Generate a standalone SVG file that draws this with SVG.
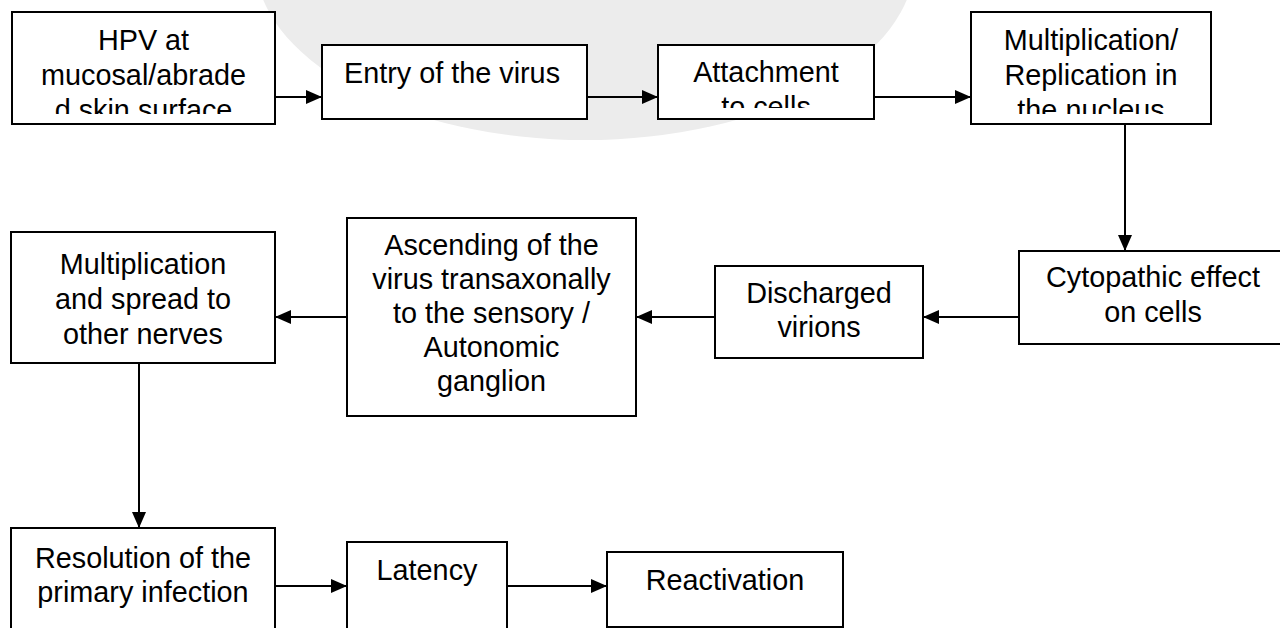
<svg xmlns="http://www.w3.org/2000/svg" width="1280" height="628" viewBox="0 0 1280 628">
<style>
.box{fill:#ffffff;stroke:#000000;stroke-width:2}
.lbl{font-family:"Liberation Sans",Arial,sans-serif;font-size:28.8px;fill:#000000;text-anchor:middle}
.conn{stroke:#000000;stroke-width:2;fill:none;marker-end:url(#arr)}
.wm{fill:#ececec}
</style>
<defs>
<marker id="arr" markerUnits="userSpaceOnUse" markerWidth="16" markerHeight="14" refX="16" refY="7" orient="auto">
<path d="M0,0 L16,7 L0,14 z" fill="#000000"/>
</marker>
<clipPath id="c1"><rect x="12" y="12" width="263" height="102"/></clipPath>
<clipPath id="c3"><rect x="658" y="45" width="216" height="63"/></clipPath>
<clipPath id="c4"><rect x="971" y="12" width="240" height="102"/></clipPath>
</defs>
<rect width="1280" height="628" fill="#ffffff"/>
<g id="watermark">
<ellipse class="wm" cx="585" cy="-40" rx="330" ry="180"/>
</g>
<g id="connectors">
<line class="conn" x1="275" y1="97" x2="322" y2="97"/>
<line class="conn" x1="587" y1="97" x2="658" y2="97"/>
<line class="conn" x1="874" y1="97" x2="971" y2="97"/>
<line class="conn" x1="1125" y1="124" x2="1125" y2="251"/>
<line class="conn" x1="1019" y1="317" x2="923" y2="317"/>
<line class="conn" x1="715" y1="317" x2="636" y2="317"/>
<line class="conn" x1="347" y1="317" x2="275" y2="317"/>
<line class="conn" x1="139" y1="363" x2="139" y2="528"/>
<line class="conn" x1="275" y1="586" x2="347" y2="586"/>
<line class="conn" x1="507" y1="586" x2="607" y2="586"/>
</g>
<g id="n1">
<rect class="box" x="12" y="12" width="263" height="112"/>
<text class="lbl" clip-path="url(#c1)"><tspan x="143.5" y="50">HPV at</tspan><tspan x="143.5" y="85">mucosal/abrade</tspan><tspan x="143.5" y="120">d skin surface</tspan></text>
</g>
<g id="n2">
<rect class="box" x="322" y="45" width="265" height="74"/>
<text class="lbl" x="452" y="83">Entry of the virus</text>
</g>
<g id="n3">
<rect class="box" x="658" y="45" width="216" height="74"/>
<text class="lbl" clip-path="url(#c3)"><tspan x="766" y="82">Attachment</tspan><tspan x="766" y="117">to cells</tspan></text>
</g>
<g id="n4">
<rect class="box" x="971" y="12" width="240" height="112"/>
<text class="lbl" clip-path="url(#c4)"><tspan x="1091" y="50">Multiplication/</tspan><tspan x="1091" y="85">Replication in</tspan><tspan x="1091" y="120">the nucleus</tspan></text>
</g>
<g id="n5">
<rect class="box" x="1019" y="251" width="270" height="93"/>
<text class="lbl"><tspan x="1153" y="287">Cytopathic effect</tspan><tspan x="1153" y="322">on cells</tspan></text>
</g>
<g id="n6">
<rect class="box" x="715" y="266" width="208" height="92"/>
<text class="lbl"><tspan x="819" y="303">Discharged</tspan><tspan x="819" y="337">virions</tspan></text>
</g>
<g id="n7">
<rect class="box" x="347" y="218" width="289" height="198"/>
<text class="lbl"><tspan x="491.5" y="255">Ascending of the</tspan><tspan x="491.5" y="289">virus transaxonally</tspan><tspan x="491.5" y="323">to the sensory /</tspan><tspan x="491.5" y="357">Autonomic</tspan><tspan x="491.5" y="391">ganglion</tspan></text>
</g>
<g id="n8">
<rect class="box" x="11" y="232" width="264" height="131"/>
<text class="lbl"><tspan x="143" y="274">Multiplication</tspan><tspan x="143" y="309">and spread to</tspan><tspan x="143" y="344">other nerves</tspan></text>
</g>
<g id="n9">
<rect class="box" x="11" y="528" width="264" height="110"/>
<text class="lbl"><tspan x="143" y="568">Resolution of the</tspan><tspan x="143" y="602">primary infection</tspan></text>
</g>
<g id="n10">
<rect class="box" x="347" y="542" width="160" height="96"/>
<text class="lbl" x="427" y="580">Latency</text>
</g>
<g id="n11">
<rect class="box" x="607" y="552" width="236" height="75"/>
<text class="lbl" x="725" y="590">Reactivation</text>
</g>
</svg>
